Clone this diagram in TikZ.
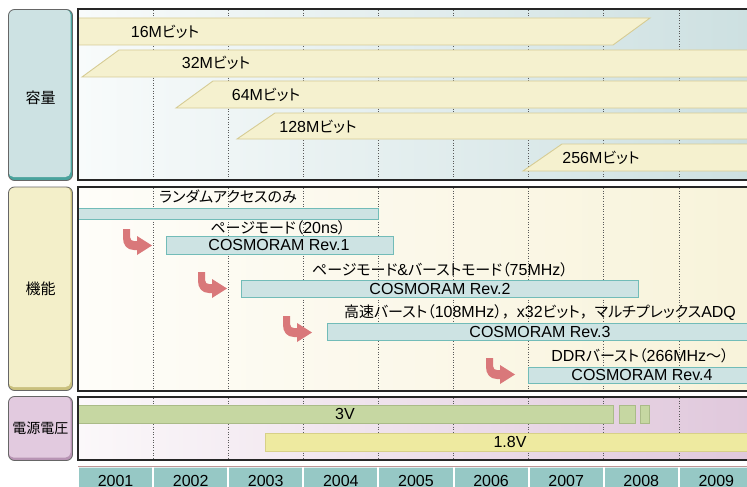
\documentclass[tikz,border=0pt]{standalone}
\usepackage{fontspec}
\setmainfont{Liberation Sans}
\newfontfamily\jp{Noto Sans CJK JP}
\newfontfamily\jpp[RawFeature=+palt]{Noto Sans CJK JP}
\newcommand\J[1]{{\jpp\fontsize{15}{15}\selectfont #1}}
\newcommand\FC{{\jp\fontsize{15}{15}\selectfont ，}}
\definecolor{tealL}{HTML}{CDE2E3}
\definecolor{tealD}{HTML}{4AA39D}
\definecolor{yelL}{HTML}{F3EFC9}
\definecolor{yelD}{HTML}{C9C07D}
\definecolor{pinkL}{HTML}{E2CADF}
\definecolor{pinkD}{HTML}{B894B4}
\definecolor{capF}{HTML}{F5F1CF}
\definecolor{capD}{HTML}{D6CC94}
\definecolor{funF}{HTML}{CDE3E3}
\definecolor{funD}{HTML}{72BCB8}
\definecolor{v3F}{HTML}{C6D7A2}
\definecolor{v3D}{HTML}{AABB88}
\definecolor{v18F}{HTML}{EEEAA0}
\definecolor{v18D}{HTML}{D7D088}
\definecolor{yearF}{HTML}{96C8C5}
\definecolor{arrC}{HTML}{D9787A}
\definecolor{p1L}{RGB}{248,251,251}
\definecolor{p1R}{RGB}{205,224,225}
\definecolor{p2L}{RGB}{254,253,249}
\definecolor{p2R}{RGB}{248,243,218}
\definecolor{p3L}{RGB}{251,248,250}
\definecolor{p3R}{RGB}{224,200,220}
\definecolor{redline}{RGB}{190,150,150}
\tikzset{
  txt/.style={inner sep=0pt, font=\fontsize{16}{16}\selectfont},
  lbl/.style={inner sep=0pt, font=\jp\fontsize{15}{15}\selectfont},
  capbar/.style={fill=capF, draw=capD, line width=0.9pt},
  funbar/.style={fill=funF, draw=funD, line width=0.9pt},
  gridln/.style={black!65, dotted, line width=0.6pt},
  frame/.style={black!85, line width=1.3pt},
  arr/.style={fill=arrC},
}
\begin{document}
\begin{tikzpicture}[x=1pt,y=-1pt]
\clip (0,0) rectangle (747,487);
\fill[white] (0,0) rectangle (747,487);

% ---------- panels ----------
\fill[left color=p1L, right color=p1R] (78,9) rectangle (750,180);
\fill[left color=p2L, right color=p2R] (78,187) rectangle (750,391);
\fill[left color=p3L, right color=p3R] (78,397) rectangle (750,460);

\foreach \k in {1,...,8}{
  \pgfmathsetmacro\xx{78+75.1*\k}
  \draw[gridln] (\xx,10) -- (\xx,179);
  \draw[gridln] (\xx,188) -- (\xx,390);
  \draw[gridln] (\xx,398) -- (\xx,459);
}

% ---------- capacity bars ----------
\draw[capbar] (78,18) -- (650,18) -- (613,45) -- (78,45) -- cycle;
\draw[capbar] (119,50) -- (760,50) -- (760,77) -- (82,77) -- cycle;
\draw[capbar] (213,81) -- (760,81) -- (760,108) -- (176,108) -- cycle;
\draw[capbar] (275,113) -- (760,113) -- (760,139) -- (237,139) -- cycle;
\draw[capbar] (562,144) -- (760,144) -- (760,171) -- (523,171) -- cycle;
\node[txt] (c16) at (165,32) {16M\J{ビット}};
\node[txt] (c32) at (216,63) {32M\J{ビット}};
\node[txt] (c64) at (266,95) {64M\J{ビット}};
\node[txt] (c128) at (318,127) {128M\J{ビット}};
\node[txt] (c256) at (601,158) {256M\J{ビット}};

% ---------- function bars ----------
\draw[funbar] (78,208) rectangle (378,219);
\draw[funbar] (166,236) rectangle (393,254);
\draw[funbar] (241,280) rectangle (638,297);
\draw[funbar] (327,323) rectangle (760,340);
\draw[funbar] (528,367) rectangle (760,383);
\node[txt] (f0) at (228,197) {\J{ランダムアクセスのみ}};
\node[txt] (f1l) at (278,228) {\J{ページモード（}20ns\J{）}};
\node[txt] (f1) at (279,245) {COSMORAM Rev.1};
\node[txt] (f2l) at (440,270) {\J{ページモード}\&\J{バーストモード（}75MHz\J{）}};
\node[txt] (f2) at (440,288.5) {COSMORAM Rev.2};
\node[txt] (f3l) at (540,313) {\J{高速バースト（}108MHz\J{）}\FC x32\J{ビット}\FC\J{マルチプレックス}ADQ};
\node[txt] (f3) at (540,331.5) {COSMORAM Rev.3};
\node[txt] (f4l) at (640,356) {DDR\J{バースト（}266MHz\J{～）}};
\node[txt] (f4) at (642,375) {COSMORAM Rev.4};

\foreach \ax/\ay in {123/229, 198/272, 283/316, 486/358}{
  \fill[arr, shift={(\ax,\ay)}] (0,0) -- (7,0) -- (7,8) .. controls (7,11) and (9,12) .. (11,12) -- (14,12) -- (14,7) -- (29,16.5) -- (14,26) -- (14,21) -- (11,21) .. controls (4,21) and (0,16) .. (0,9) -- cycle;
}

% ---------- voltage bars ----------
\draw[fill=v3F, draw=v3D, line width=0.8pt] (78,405) rectangle (613,423);
\draw[fill=v3F, draw=v3D, line width=0.8pt] (619,405) rectangle (635,423);
\draw[fill=v3F, draw=v3D, line width=0.8pt] (640,405) rectangle (649,423);
\draw[fill=v18F, draw=v18D, line width=0.8pt] (265,433) rectangle (760,451);
\node[txt] (v3) at (345,414) {3V};
\node[txt] (v18) at (510,442) {1.8V};

% ---------- frames ----------
\draw[frame] (750,9) -- (78,9) -- (78,180) -- (750,180);
\draw[frame] (750,187) -- (78,187) -- (78,391) -- (750,391);
\draw[frame] (750,397) -- (78,397) -- (78,460) -- (750,460);

% ---------- left labels ----------
\fill[tealD, rounded corners=6pt] (8.5,9.5) rectangle (72.5,180.5);
\fill[tealL, rounded corners=5pt] (8.5,9.5) rectangle (70.5,177);
\draw[black!60, line width=0.8pt, rounded corners=6pt] (8.5,9.5) rectangle (72.5,180.5);
\node[lbl] (cap) at (40.5,98) {容量};

\fill[yelD, rounded corners=6pt] (8.5,187) rectangle (72.5,390.5);
\fill[yelL, rounded corners=5pt] (8.5,187) rectangle (70.5,387);
\draw[black!60, line width=0.8pt, rounded corners=6pt] (8.5,187) rectangle (72.5,390.5);
\node[lbl] (fun) at (40.5,288.5) {機能};

\fill[pinkD, rounded corners=6pt] (8.5,396.5) rectangle (72.5,460.5);
\fill[pinkL, rounded corners=5pt] (8.5,396.5) rectangle (70.5,457.5);
\draw[black!60, line width=0.8pt, rounded corners=6pt] (8.5,396.5) rectangle (72.5,460.5);
\node[lbl, font=\jp\fontsize{14}{14}\selectfont] (vol) at (40.5,428) {電源電圧};

% ---------- years ----------
\draw[redline, line width=0.6pt] (78,466.3) -- (750,466.3);
\foreach \y [count=\i from 0] in {2001,...,2009}{
  \pgfmathsetmacro\xa{78+75.1*\i+1}
  \pgfmathsetmacro\xb{78+75.1*(\i+1)-1}
  \pgfmathsetmacro\xc{78+75.1*(\i+0.5)}
  \fill[yearF] (\xa,467) rectangle (\xb,492);
  \draw[white!70!yearF, line width=0.6pt] (\xa,467.5) -- (\xb,467.5);
  \node[txt] (y\y) at (\xc,480.5) {\y};
}
\end{tikzpicture}
\end{document}
